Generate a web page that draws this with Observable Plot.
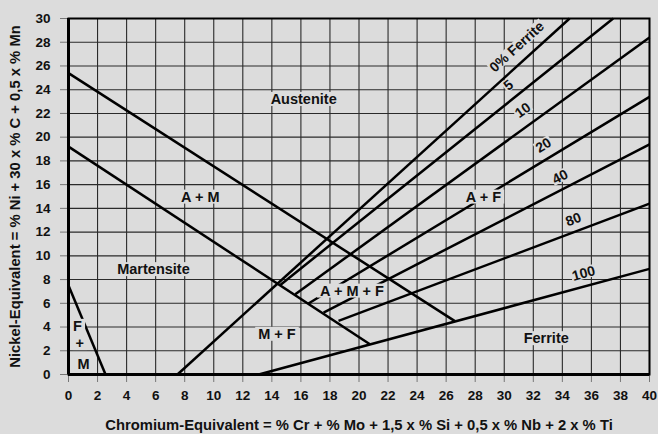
<!DOCTYPE html>
<html>
<head>
<meta charset="utf-8">
<script src="https://cdn.jsdelivr.net/npm/d3@7"></script>
<script src="https://cdn.jsdelivr.net/npm/@observablehq/plot@0.6"></script>
<style>
  html, body { margin: 0; padding: 0; background: #dcdcdc; }
  #chart svg { display: block; }
</style>
</head>
<body>
<div id="chart"></div>
<script>
// Schaeffler diagram: phase boundaries as straight segments (Cr-eq, Ni-eq).
const boundaryNames = ["A limit", "M limit", "F+M limit", "0%", "5%", "10%", "20%", "40%", "80%", "100%"];
const boundaryX1 = [0, 0, 0, 7.5, 14.58, 15.61, 16.52, 17.56, 18.59, 13.1];
const boundaryY1 = [25.4, 19.2, 7.5, 0, 7.55, 6.76, 5.98, 5.22, 4.52, 0];
const boundaryX2 = [26.6, 20.75, 2.55, 34.5, 37.5, 40, 40, 40, 40, 40];
const boundaryY2 = [4.5, 2.55, 0, 30, 30, 28.4, 23.4, 19.4, 14.4, 8.9];

// Ferrite-content labels, each set along its iso-ferrite line.
const ferriteLabels = ["0% Ferrite", "5", "10", "20", "40", "80", "100"];
const ferriteLine = [3, 4, 5, 6, 7, 8, 9];
const ferriteLabelX = [30.87, 30.29, 31.28, 32.70, 33.85, 34.77, 35.46];
const ferriteLabelY = [27.6, 24.37, 22.26, 19.31, 16.65, 13.06, 8.51];

// Phase-field names.
const regionLabels = ["Austenite", "A + M", "Martensite", "F", "+", "M", "M + F", "A + M + F", "A + F", "Ferrite"];
const regionX = [16.19, 9.07, 5.85, 0.62, 0.77, 1.04, 14.35, 19.51, 28.57, 32.89];
const regionY = [23.19, 14.96, 8.85, 4.07, 2.62, 0.87, 3.40, 7.04, 14.96, 3.03];

const xTicks = d3.range(0, 41, 2);
const yTicks = d3.range(0, 31, 2);
const xTitle = "Chromium-Equivalent = % Cr + % Mo + 1,5 x % Si + 0,5 x % Nb + 2 x % Ti";
const yTitle = "Nickel-Equivalent = % Ni + 30 x % C + 0,5 x % Mn";

const W = 658, H = 434;
const M = {top: 18, right: 9, bottom: 60, left: 68};
const kx = (W - M.left - M.right) / 40;
const ky = (H - M.top - M.bottom) / 30;

// Screen angle of each labelled line, from its slope.
const ferriteRotate = ferriteLine.map(i => {
  const slope = (boundaryY2[i] - boundaryY1[i]) / (boundaryX2[i] - boundaryX1[i]);
  return -Math.atan(slope * ky / kx) * 180 / Math.PI;
});

const font = "'Liberation Sans', Arial, Helvetica, sans-serif";
const ink = "#111";

const chart = Plot.plot({
  width: W,
  height: H,
  marginTop: M.top,
  marginRight: M.right,
  marginBottom: M.bottom,
  marginLeft: M.left,
  style: {background: "#dcdcdc", fontFamily: font, fontWeight: "bold", color: ink},
  x: {domain: [0, 40]},
  y: {domain: [0, 30]},
  marks: [
    Plot.gridX(xTicks, {stroke: "#2a2a2a", strokeOpacity: 1, strokeWidth: 1.1}),
    Plot.gridY(yTicks, {stroke: "#2a2a2a", strokeOpacity: 1, strokeWidth: 1.1}),
    Plot.axisX({ticks: xTicks, tickSize: 8, tickPadding: 8, label: null, fontSize: 13.5, fontWeight: "bold", stroke: "#777", fill: ink}),
    Plot.axisY({ticks: yTicks, tickSize: 8, tickPadding: 10, label: null, fontSize: 13.5, fontWeight: "bold", stroke: "#777", fill: ink}),
    Plot.link(boundaryNames, {
      x1: boundaryX1, y1: boundaryY1, x2: boundaryX2, y2: boundaryY2,
      stroke: "#000", strokeWidth: 2.5, strokeLinecap: "butt"
    }),
    Plot.frame({stroke: "#000", strokeWidth: 2}),
    Plot.ruleX([0], {stroke: "#000", strokeWidth: 3}),
    Plot.ruleY([0], {stroke: "#000", strokeWidth: 3}),
    Plot.text(regionLabels, {
      x: regionX, y: regionY, text: d => d,
      fontSize: 14.5, fontWeight: "bold", fill: ink, ariaDescription: "phase labels"
    }),
    Plot.text(ferriteLabels, {
      x: ferriteLabelX, y: ferriteLabelY, text: d => d, rotate: ferriteRotate,
      fontSize: 14, fontWeight: "bold", fill: ink, ariaDescription: "ferrite labels"
    }),
    Plot.text([xTitle], {frameAnchor: "bottom", lineAnchor: "middle", textAnchor: "middle", dy: 51, fontSize: 14.8, fontWeight: "bold", fill: ink}),
    Plot.text([yTitle], {frameAnchor: "left", lineAnchor: "middle", textAnchor: "middle", dx: -53, rotate: -90, fontSize: 14.8, fontWeight: "bold", fill: ink})
  ]
});

document.getElementById("chart").append(chart);

// Knock out grid and lines behind each label with a background box.
function backdrop(selector, padX, padY) {
  chart.querySelectorAll(selector).forEach(g => {
    const texts = Array.from(g.querySelectorAll("text"));
    const first = g.firstChild;
    texts.forEach(t => {
      const b = t.getBBox();
      const r = document.createElementNS("http://www.w3.org/2000/svg", "rect");
      r.setAttribute("x", b.x - padX);
      r.setAttribute("y", b.y - padY);
      r.setAttribute("width", b.width + 2 * padX);
      r.setAttribute("height", b.height + 2 * padY);
      r.setAttribute("fill", "#dcdcdc");
      r.setAttribute("stroke", "none");
      const tr = t.getAttribute("transform");
      if (tr) r.setAttribute("transform", tr);
      g.insertBefore(r, first);
    });
  });
}
backdrop('g[aria-description="phase labels"]', 3, -1);
backdrop('g[aria-description="ferrite labels"]', 1, -2);
</script>
</body>
</html>
